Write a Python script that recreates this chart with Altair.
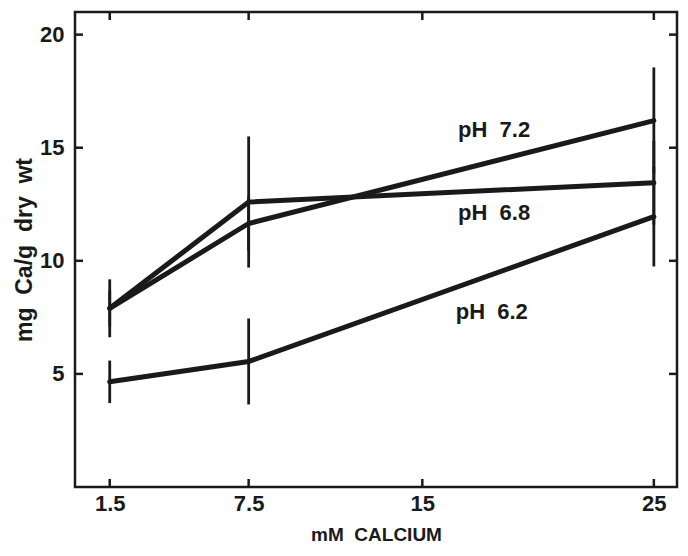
import altair as alt
import pandas as pd

# ---- data ----
conc = [1.5, 7.5, 25]
series = ["pH 7.2", "pH 6.8", "pH 6.2"]
ph72 = [7.9, 11.65, 16.2]
ph68 = [7.9, 12.6, 13.45]
ph62 = [4.65, 5.55, 11.95]
err72 = [0.8, 1.2, 2.35]
err68 = [1.28, 2.9, 1.85]
err62 = [0.94, 1.9, 2.2]

label_text = ["pH\u00a0\u00a07.2", "pH\u00a0\u00a06.8", "pH\u00a0\u00a06.2"]
label_x = [18.1, 18.1, 18.0]
label_y = [15.8, 12.1, 7.75]

x_ticks = [1.5, 7.5, 15, 25]
y_ticks = [5, 10, 15, 20]

# ---- tables ----
rows = []
for name, vals, errs in zip(series, [ph72, ph68, ph62], [err72, err68, err62]):
    for c, v, e in zip(conc, vals, errs):
        rows.append({"series": name, "conc": c, "val": v, "lo": v - e, "hi": v + e})
df = pd.DataFrame(rows)
labels = pd.DataFrame({"text": label_text, "x": label_x, "y": label_y})
xt = pd.DataFrame({"t": x_ticks})
yt = pd.DataFrame({"t": y_ticks})

W, H = 602, 475
TK = 8
FONT = "Liberation Sans"
INK = "#1a1a1a"

xs = alt.Scale(domain=[0, 26], nice=False, zero=False)
ys = alt.Scale(domain=[0, 21], nice=False, zero=False)

x_main = alt.Axis(values=x_ticks, orient="bottom", title="mM\u00a0\u00a0CALCIUM",
                  format=".3~g", tickSize=0, domain=False, grid=False,
                  labelFont=FONT, labelFontSize=22, labelFontWeight="bold",
                  labelColor=INK, labelPadding=6,
                  titleFont=FONT, titleFontSize=19, titleFontWeight="bold",
                  titleColor=INK, titlePadding=11)
y_main = alt.Axis(values=y_ticks, orient="left", title="mg\u00a0\u00a0Ca/g\u00a0\u00a0dry\u00a0\u00a0wt",
                  format=".3~g", tickSize=0, domain=False, grid=False,
                  labelFont=FONT, labelFontSize=22, labelFontWeight="bold",
                  labelColor=INK, labelPadding=11,
                  titleFont=FONT, titleFontSize=23, titleFontWeight="bold",
                  titleColor=INK, titlePadding=3)

X = lambda f: alt.X(f, scale=xs, axis=x_main)
Y = lambda f: alt.Y(f, scale=ys, axis=y_main)

lines = alt.Chart(df).mark_line(strokeWidth=5, color=INK, strokeCap="round").encode(
    x=X("conc:Q"), y=Y("val:Q"), detail="series:N",
)

bars = alt.Chart(df).mark_rule(strokeWidth=2.8, color=INK).encode(
    x=X("conc:Q"), y=Y("lo:Q"), y2="hi:Q",
)

texts = alt.Chart(labels).mark_text(font=FONT, fontSize=22, fontWeight="bold",
                                    color=INK, align="center", baseline="middle").encode(
    x=X("x:Q"), y=Y("y:Q"), text="text:N",
)

# inward tick marks on all four sides of the frame
tick_style = dict(strokeWidth=2.5, color=INK)
tick_bottom = alt.Chart(xt).mark_rule(**tick_style).encode(
    x=X("t:Q"), y=alt.value(H - TK), y2=alt.value(H))
tick_top = alt.Chart(xt).mark_rule(**tick_style).encode(
    x=X("t:Q"), y=alt.value(0), y2=alt.value(TK))
tick_left = alt.Chart(yt).mark_rule(**tick_style).encode(
    y=Y("t:Q"), x=alt.value(0), x2=alt.value(TK))
tick_right = alt.Chart(yt).mark_rule(**tick_style).encode(
    y=Y("t:Q"), x=alt.value(W - TK), x2=alt.value(W))

chart = alt.layer(lines, bars, texts, tick_bottom, tick_top, tick_left, tick_right).properties(
    width=W, height=H,
    autosize=alt.AutoSizeParams(type="none"),
    padding={"left": 67, "top": 4, "right": 3, "bottom": 61},
    background="white",
).configure_view(stroke=INK, strokeWidth=2.5)

chart.save("out.html", embed_options={"renderer": "svg", "actions": False})
